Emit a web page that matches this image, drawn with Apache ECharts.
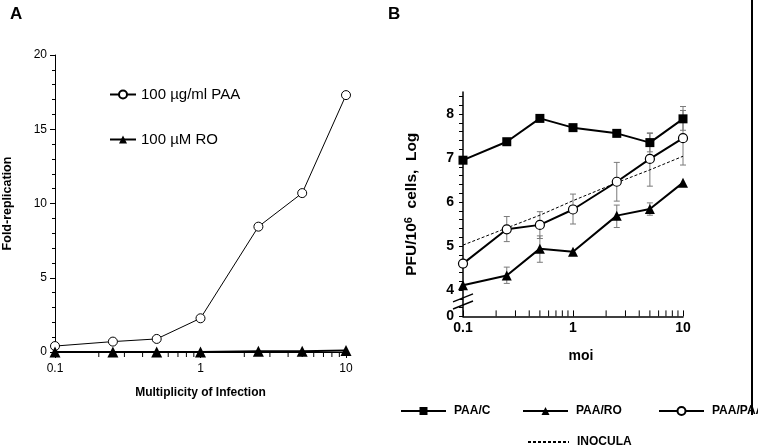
<!DOCTYPE html>
<html><head><meta charset="utf-8">
<script src="https://cdn.jsdelivr.net/npm/echarts@6/dist/echarts.min.js"></script>
<style>html,body{margin:0;padding:0;background:#fff}#c{width:758px;height:445px}</style>
</head><body><div id="c"></div>
<script>
// ---------- data ----------
const moi = [0.1, 0.25, 0.5, 1, 2.5, 5, 10];
// Panel A: fold-replication
const paaA = [0.4, 0.7, 0.88, 2.27, 8.44, 10.7, 17.3];
const roA  = [0, 0, 0, 0, 0.05, 0.05, 0.1];
// Panel B: PFU/10^6 cells (log)
const paaC   = [6.95, 7.37, 7.9, 7.69, 7.56, 7.35, 7.89];
const paaRO  = [4.11, 4.33, 4.94, 4.87, 5.69, 5.84, 6.44];
const paaPAA = [4.6, 5.38, 5.48, 5.83, 6.46, 6.98, 7.45];
const inocula = [5.02, 5.41, 5.7, 6.03, 6.44, 6.73, 7.04];
// error bars [moi, low, high]
const errPAA = [[0.25, 5.10, 5.67], [0.5, 5.17, 5.78], [1, 5.50, 6.18], [2.5, 6.02, 6.90], [5, 6.36, 7.56], [10, 6.84, 8.08]];
const errRO  = [[0.25, 4.15, 4.52], [0.5, 4.63, 5.23], [2.5, 5.42, 5.93], [5, 5.70, 5.98]];
const errC   = [[5, 7.14, 7.57], [10, 7.63, 8.17]];
// axis ticks
const minorX = [0.2, 0.3, 0.4, 0.5, 0.6, 0.7, 0.8, 0.9, 2, 3, 4, 5, 6, 7, 8, 9];
const xLabels = {0.1: '0.1', 1: '1', 10: '10'};
const yBreakValue = 3.4;   // position standing for "0" on the broken axis of panel B
const yBreakLabel = '0';

const pairs = (xs, ys) => xs.map((x, i) => [x, ys[i]]);

const chart = echarts.init(document.getElementById('c'));
const FONT = 'Liberation Sans, Arial, Helvetica, sans-serif';

function minorTickSeries(gridIdx, base, len) {
  return {
    type: 'custom', xAxisIndex: gridIdx, yAxisIndex: gridIdx, silent: true, clip: false,
    data: minorX.map(v => [v, base]),
    renderItem: (params, api) => {
      const p = api.coord([api.value(0), api.value(1)]);
      return {type: 'line', shape: {x1: p[0], y1: p[1], x2: p[0], y2: p[1] + len},
        style: {stroke: '#000', lineWidth: 1}};
    }
  };
}
function errSeries(name, data) {
  return {
    type: 'custom', name: name, xAxisIndex: 1, yAxisIndex: 1, silent: true, clip: false, z: 1,
    data: data,
    renderItem: (params, api) => {
      const x = api.value(0);
      const lo = api.coord([x, api.value(1)]);
      const hi = api.coord([x, api.value(2)]);
      const st = {stroke: '#7a7a7a', lineWidth: 1};
      return {type: 'group', children: [
        {type: 'line', shape: {x1: lo[0], y1: lo[1], x2: hi[0], y2: hi[1]}, style: st},
        {type: 'line', shape: {x1: lo[0] - 3, y1: lo[1], x2: lo[0] + 3, y2: lo[1]}, style: st},
        {type: 'line', shape: {x1: hi[0] - 3, y1: hi[1], x2: hi[0] + 3, y2: hi[1]}, style: st}
      ]};
    }
  };
}

const legendB = (name, left, top, w, extra) => Object.assign({
  data: [name], left: left, top: top, itemWidth: w, itemHeight: 10,
  textStyle: {fontFamily: FONT, fontWeight: 'bold', fontSize: 12, color: '#000', padding: [0, 0, 0, 3]},
  selectedMode: false
}, extra || {});

chart.setOption({
  animation: false,
  textStyle: {fontFamily: FONT},
  title: [
    {text: 'A', left: 5, top: 1, textStyle: {fontSize: 17, fontWeight: 'bold', color: '#000', fontFamily: FONT}},
    {text: 'B', left: 383, top: 1, textStyle: {fontSize: 17, fontWeight: 'bold', color: '#000', fontFamily: FONT}}
  ],
  grid: [
    {left: 53, top: 55, width: 293, height: 297},
    {left: 463, top: 92, width: 220, height: 224.4}
  ],
  legend: [
    {data: ['100 µg/ml PAA', '100 µM RO'], orient: 'vertical', left: 104, top: 82, itemGap: 30,
     itemWidth: 26, itemHeight: 10, selectedMode: false,
     textStyle: {fontFamily: FONT, fontSize: 15, color: '#000'}},
    legendB('PAA/C', 395, 400, 45),
    legendB('PAA/RO', 517, 400, 45),
    legendB('PAA/PAA', 653, 400, 45),
    legendB('INOCULA', 522, 431, 41, {itemStyle: {opacity: 0}})
  ],
  xAxis: [
    {gridIndex: 0, type: 'log', logBase: 10, min: 0.1, max: 10,
     name: 'Multiplicity of Infection', nameLocation: 'middle', nameGap: 35,
     nameTextStyle: {fontWeight: 'bold', fontSize: 12, color: '#000'},
     axisLine: {lineStyle: {color: '#000', width: 1.2}},
     axisTick: {inside: false, length: 6, lineStyle: {color: '#000'}},
     axisLabel: {margin: 11, fontSize: 12, color: '#000', formatter: v => xLabels[v] || String(v)},
     splitLine: {show: false}},
    {gridIndex: 1, type: 'log', logBase: 10, min: 0.1, max: 10,
     name: 'moi', nameLocation: 'middle', nameGap: 33,
     nameTextStyle: {fontWeight: 'bold', fontSize: 14, color: '#000', padding: [0, 0, 0, 16]},
     axisLine: {lineStyle: {color: '#000', width: 1.5}},
     axisTick: {inside: true, length: 6, lineStyle: {color: '#000'}},
     axisLabel: {margin: 5, fontSize: 14, fontWeight: 'bold', color: '#000', formatter: v => xLabels[v] || String(v)},
     splitLine: {show: false}}
  ],
  yAxis: [
    {gridIndex: 0, type: 'value', min: 0, max: 20, interval: 5,
     name: 'Fold-replication', nameLocation: 'middle', nameGap: 41,
     nameTextStyle: {fontWeight: 'bold', fontSize: 12.5, color: '#000'},
     axisLine: {show: true, lineStyle: {color: '#000', width: 1}},
     axisTick: {show: true, length: 5, lineStyle: {color: '#000'}},
     minorTick: {show: true, splitNumber: 5, length: 3, lineStyle: {color: '#000'}},
     axisLabel: {margin: 8, fontSize: 12, color: '#000'},
     splitLine: {show: false}},
    {gridIndex: 1, type: 'value', min: yBreakValue, max: 8.5, interval: 0.2,
     name: 'PFU/10{s|6}  cells,  Log', nameLocation: 'middle', nameGap: 42,
     nameTextStyle: {fontWeight: 'bold', fontSize: 15.5, color: '#000',
       rich: {s: {fontSize: 11, fontWeight: 'bold', verticalAlign: 'top', padding: [0, 0, 7, 0]}}},
     axisLine: {show: true, lineStyle: {color: '#000', width: 1.5}},
     axisTick: {show: true, length: 4, lineStyle: {color: '#000'}},
     axisLabel: {margin: 9, fontSize: 14, fontWeight: 'bold', color: '#000', showMaxLabel: false,
       formatter: v => {
         if (Math.abs(v - yBreakValue) < 1e-6) return yBreakLabel;
         const r = Math.round(v);
         return (Math.abs(v - r) < 1e-6 && r >= 4) ? String(r) : '';
       }},
     splitLine: {show: false}}
  ],
  series: [
    // Panel A
    {name: '100 µg/ml PAA', type: 'line', xAxisIndex: 0, yAxisIndex: 0, data: pairs(moi, paaA),
     symbol: 'circle', symbolSize: 9, lineStyle: {color: '#000', width: 1},
     itemStyle: {color: '#fff', borderColor: '#000', borderWidth: 1}, z: 3},
    {name: '100 µM RO', type: 'line', xAxisIndex: 0, yAxisIndex: 0, data: pairs(moi, roA),
     symbol: 'triangle', symbolSize: 11, lineStyle: {color: '#000', width: 2},
     itemStyle: {color: '#000'}, z: 4},
    minorTickSeries(0, 0, 5),
    // Panel B
    errSeries('errC', errC), errSeries('errRO', errRO), errSeries('errPAA', errPAA),
    {name: 'INOCULA', type: 'line', xAxisIndex: 1, yAxisIndex: 1, data: pairs(moi, inocula),
     showSymbol: false, symbol: 'circle', symbolSize: 1, itemStyle: {color: '#000'},
     lineStyle: {color: '#000', width: 1, type: [3, 2]}, z: 2},
    {name: 'PAA/C', type: 'line', xAxisIndex: 1, yAxisIndex: 1, data: pairs(moi, paaC),
     symbol: 'rect', symbolSize: 9, lineStyle: {color: '#000', width: 2}, itemStyle: {color: '#000'}, z: 3},
    {name: 'PAA/RO', type: 'line', xAxisIndex: 1, yAxisIndex: 1, data: pairs(moi, paaRO),
     symbol: 'triangle', symbolSize: 10, lineStyle: {color: '#000', width: 2}, itemStyle: {color: '#000'}, z: 3},
    {name: 'PAA/PAA', type: 'line', xAxisIndex: 1, yAxisIndex: 1, data: pairs(moi, paaPAA),
     symbol: 'circle', symbolSize: 9, lineStyle: {color: '#000', width: 2},
     itemStyle: {color: '#fff', borderColor: '#000', borderWidth: 1.2}, z: 4},
    minorTickSeries(1, yBreakValue, -6),
    // axis break marks on panel B y axis
    {type: 'custom', xAxisIndex: 1, yAxisIndex: 1, silent: true, clip: false, z: 5,
     data: [[0.1, 3.82], [0.1, 3.66]],
     renderItem: (params, api) => {
       const p = api.coord([api.value(0), api.value(1)]);
       return {type: 'line', shape: {x1: p[0] - 10, y1: p[1] + 4, x2: p[0] + 10, y2: p[1] - 4},
         style: {stroke: '#000', lineWidth: 1.5}};
     }}
  ],
  graphic: [
    {type: 'line', shape: {x1: 752, y1: 0, x2: 752, y2: 415}, style: {stroke: '#000', lineWidth: 2}}
  ]
});
</script></body></html>
